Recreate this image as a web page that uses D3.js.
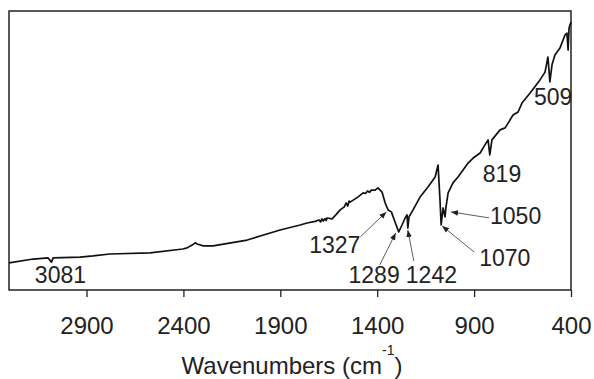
<!DOCTYPE html>
<html>
<head>
<meta charset="utf-8">
<script src="https://cdn.jsdelivr.net/npm/d3@7"></script>
<style>
  body { margin: 0; background: #fff; }
  svg text { font-family: "Liberation Sans", Arial, sans-serif; fill: #222; }
</style>
</head>
<body>
<svg id="ir-chart"></svg>
<script>
// spectrum: wavenumber (cm-1) and relative signal (0..100)
const wavenumbers =
    [ 3300, 3175, 3098, 3081, 3072, 2933, 2866, 2780, 2572, 2403
    , 2381, 2355, 2339, 2329, 2298, 2247, 2071, 1901, 1798, 1762
    , 1720, 1700, 1692, 1685, 1678, 1670, 1663, 1659, 1633, 1610
    , 1591, 1570, 1560, 1552, 1545, 1540, 1500, 1473, 1460, 1450
    , 1440, 1430, 1411, 1396, 1375, 1359, 1344, 1327, 1308, 1289
    , 1272, 1256, 1246, 1242, 1236, 1215, 1179, 1138, 1101, 1086
    , 1076, 1070, 1060, 1050, 1045, 1034, 1009,  983,  957,  931
    ,  905,  869,  844,  828,  819,  808,  766,  740,  699,  673
    ,  653,  611,  560,  534,  519,  509,  498,  483,  457,  431
    ,  421,  415,  410,  400
    ]
const signal =
    [ 9.7, 11.1, 11.5, 10.0, 11.5, 11.8, 12.2, 12.9, 13.3, 14.7
    , 15.1, 16.1, 16.9, 16.5, 15.8, 15.8, 17.9, 21.5, 23.3, 24.0
    , 24.6, 25.1, 24.4, 25.5, 24.7, 25.6, 24.9, 25.8, 25.5, 27.2
    , 28.7, 29.8, 31.2, 30.1, 31.9, 31.5, 33.3, 34.8, 34.6, 35.5
    , 35.0, 35.8, 35.8, 36.6, 35.1, 31.2, 28.7, 28.0, 24.4, 20.8
    , 23.3, 25.8, 26.9, 22.2, 26.2, 28.7, 33.3, 36.9, 40.5, 44.8
    , 32.3, 23.3, 29.4, 26.2, 29.8, 34.8, 38.4, 40.5, 43.0, 45.5
    , 47.3, 49.1, 52.0, 53.8, 48.4, 53.8, 57.4, 58.1, 62.7, 63.8
    , 67.0, 70.6, 75.3, 78.1, 83.5, 74.6, 80.7, 84.2, 86.7, 91.4
    , 92.1, 86.0, 93.9, 96.1
    ]

const xTicks = [2900, 2400, 1900, 1400, 900, 400]
const peakLabels = ["3081", "1327", "1289", "1242", "1070", "1050", "819", "509"]
const peakPositions = [3081, 1327, 1289, 1242, 1070, 1050, 819, 509]

const width  = 594
const height = 379
const margin = { top: 11, right: 23, bottom: 89, left: 9 }

const svg = d3.select("#ir-chart")
    .attr("width", width)
    .attr("height", height)

const x = d3.scaleLinear()
    .domain([3300, 400])
    .range([margin.left, width - margin.right])

const y = d3.scaleLinear()
    .domain([0, 100])
    .range([height - margin.bottom, margin.top])

const spectrum = wavenumbers.map((w, i) => ({ w: w, v: signal[i] }))

// linear lookup of the trace at a given wavenumber
const signalAt = (w) => {
    for (let i = 0; i < spectrum.length - 1; i++) {
        const a = spectrum[i], b = spectrum[i + 1]
        if (w <= a.w && w >= b.w) {
            const t = (a.w - w) / (a.w - b.w)
            return a.v + t * (b.v - a.v)
        }
    }
    return spectrum[spectrum.length - 1].v
}

svg.append("defs").append("marker")
    .attr("id", "head")
    .attr("viewBox", "0 0 10 10")
    .attr("refX", 10)
    .attr("refY", 5)
    .attr("markerWidth", 7)
    .attr("markerHeight", 7)
    .attr("markerUnits", "userSpaceOnUse")
    .attr("orient", "auto")
    .append("path")
    .attr("d", "M0,1 L10,5 L0,9 Z")
    .attr("fill", "#222")

// axis
const xAxis = d3.axisBottom(x)
    .tickValues(xTicks)
    .tickSize(7)
    .tickFormat(d3.format("d"))

const gx = svg.append("g")
    .attr("transform", "translate(0," + y(0) + ")")
    .call(xAxis)
gx.select(".domain").remove()
gx.selectAll(".tick line").attr("stroke", "#222").attr("stroke-width", 1.3)
gx.selectAll(".tick text")
    .attr("y", 44)
    .attr("dy", 0)
    .attr("font-size", 24)
    .attr("fill", "#222")

// frame
svg.append("rect")
    .attr("x", x(3300))
    .attr("y", y(100))
    .attr("width", x(400) - x(3300))
    .attr("height", y(0) - y(100))
    .attr("fill", "none")
    .attr("stroke", "#222")
    .attr("stroke-width", 1.5)

// trace
const line = d3.line()
    .x((d) => x(d.w))
    .y((d) => y(d.v))

svg.append("path")
    .datum(spectrum)
    .attr("d", line)
    .attr("fill", "none")
    .attr("stroke", "#111")
    .attr("stroke-width", 1.7)
    .attr("stroke-linejoin", "round")

// label placement relative to the peak on the trace (px)
const layout =
    [ { dx:   9, dy: 21, anchor: "middle", arrow: null }
    , { dx: -31, dy: 41, anchor: "end",    arrow: [-31, 25, -5,  0] }
    , { dx:   1, dy: 51, anchor: "end",    arrow: [-19, 33, -3,  1] }
    , { dx:  -2, dy: 55, anchor: "start",  arrow: [  6, 33,  0,  2] }
    , { dx:  38, dy: 41, anchor: "start",  arrow: [ 33, 27,  1,  1] }
    , { dx:  45, dy:  7, anchor: "start",  arrow: [ 44,  1,  6, -5] }
    , { dx:  -7, dy: 27, anchor: "start",  arrow: null }
    , { dx: -16, dy: 23, anchor: "start",  arrow: null }
    ]

const notes = svg.append("g")
peakPositions.forEach((w, i) => {
    const px = x(w), py = y(signalAt(w))
    const l = layout[i]
    notes.append("text")
        .attr("x", px + l.dx)
        .attr("y", py + l.dy)
        .attr("text-anchor", l.anchor)
        .attr("font-size", 23)
        .text(peakLabels[i])
    if (l.arrow) {
        notes.append("line")
            .attr("x1", px + l.arrow[0])
            .attr("y1", py + l.arrow[1])
            .attr("x2", px + l.arrow[2])
            .attr("y2", py + l.arrow[3])
            .attr("stroke", "#333")
            .attr("stroke-width", 0.8)
            .attr("marker-end", "url(#head)")
    }
})

// axis title
const title = svg.append("text")
    .attr("x", (x(3300) + x(400)) / 2 + 2)
    .attr("y", 374)
    .attr("text-anchor", "middle")
    .attr("font-size", 24)
title.append("tspan").text("Wavenumbers (cm")
title.append("tspan").attr("font-size", 14).attr("dy", -19).text("-1")
title.append("tspan").attr("dy", 19).text(")")
</script>
</body>
</html>
